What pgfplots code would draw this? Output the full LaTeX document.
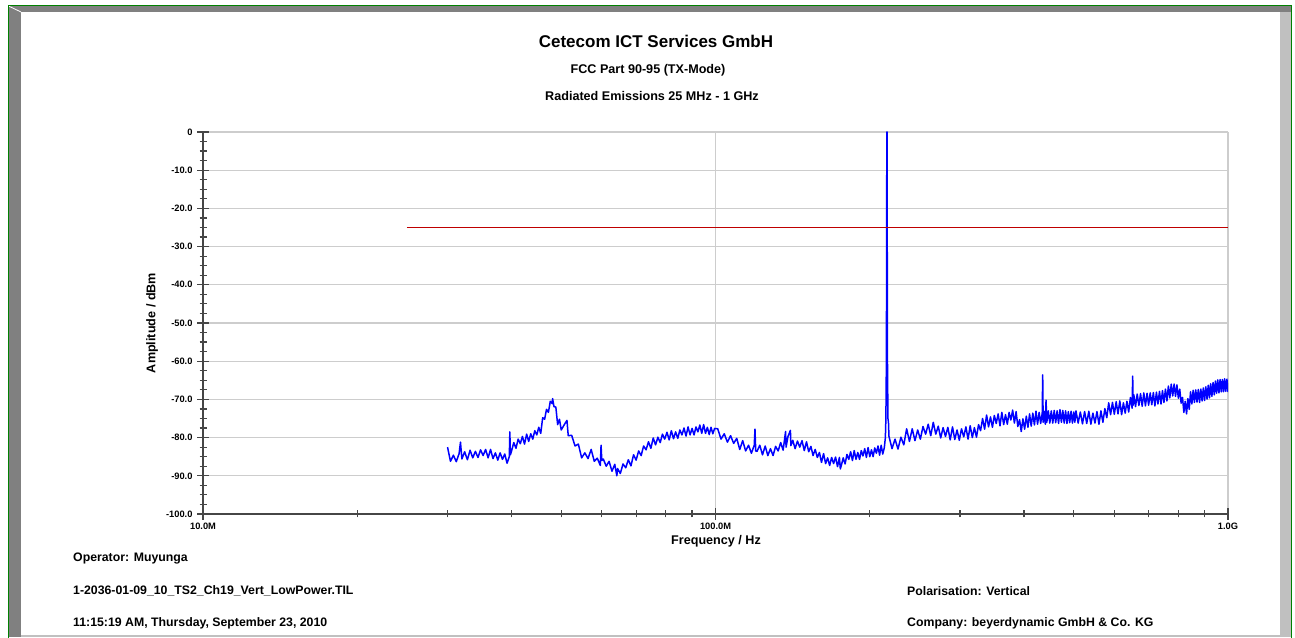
\documentclass[border=0pt]{standalone}
\usepackage{pgfplots}
\pgfplotsset{compat=1.18}
\usepackage{fontspec}
\setmainfont{Liberation Sans}
\definecolor{tracebl}{RGB}{0,0,255}
\definecolor{gridg}{RGB}{205,205,205}
\definecolor{axg}{RGB}{70,70,70}
\definecolor{frg}{RGB}{128,128,128}
\definecolor{frl}{RGB}{192,192,192}
\definecolor{frgreen}{RGB}{0,128,0}
\begin{document}
\begin{tikzpicture}[x=1pt,y=1pt]
\useasboundingbox (0,0) rectangle (1295,637);
\fill[white] (0,0) rectangle (1295,637);
% window frame
\fill[frg] (8,0) rectangle (21,631);
\fill[frg] (8,625) rectangle (1291,631);
\fill[frl] (1280,0) rectangle (1291,625);
\fill[frl] (21,0) rectangle (1280,2);
\draw[white, line width=0.8] (8.5,631) -- (21,625);
\draw[frgreen, line width=1.2] (8.6,-2) -- (8.6,631.4) -- (1291.4,631.4) -- (1291.4,-2);
% titles
\node[font=\bfseries\fontsize{17}{20}\selectfont] at (656,596) {Cetecom ICT Services GmbH};
\node[font=\bfseries\fontsize{12.6}{15}\selectfont] at (648,567) {FCC Part 90-95 (TX-Mode)};
\node[font=\bfseries\fontsize{12.6}{15}\selectfont] at (652,541) {Radiated Emissions 25 MHz - 1 GHz};
% footer
\node[font=\bfseries\fontsize{12.3}{15}\selectfont, anchor=west, inner sep=0pt] at (73,78) {Operator: Muyunga};
\node[font=\bfseries\fontsize{12.3}{15}\selectfont, anchor=west, inner sep=0pt] at (73,46) {1-2036-01-09\_10\_TS2\_Ch19\_Vert\_LowPower.TIL};
\node[font=\bfseries\fontsize{12.3}{15}\selectfont, anchor=west, inner sep=0pt] at (73,14) {11:15:19 AM, Thursday, September 23, 2010};
\node[font=\bfseries\fontsize{12.3}{15}\selectfont, anchor=west, inner sep=0pt] at (907,46) {Polarisation: Vertical};
\node[font=\bfseries\fontsize{12.3}{15}\selectfont, anchor=west, inner sep=0pt] at (907,14) {Company: beyerdynamic GmbH \& Co. KG};
% axis labels
\node[font=\bfseries\fontsize{12.6}{15}\selectfont] at (716,96) {Frequency / Hz};
\node[font=\bfseries\fontsize{12.6}{15}\selectfont, rotate=90] at (152,314) {Amplitude / dBm};
\begin{axis}[
  at={(203pt,123pt)}, anchor=south west,
  scale only axis, width=1025pt, height=382pt,
  xmode=log, xmin=10, xmax=1000, ymin=-100, ymax=0,
  axis x line=bottom, axis y line=left,
  axis line style={-, line width=1.8pt, color=axg},
  xtick={10,100,1000}, xticklabels={10.0M,100.0M,1.0G},
  minor xtick={20,30,40,50,60,70,80,90,200,300,400,500,600,700,800,900},
  ytick={0,-10,-20,-30,-40,-50,-60,-70,-80,-90,-100},
  yticklabels={0,-10.0,-20.0,-30.0,-40.0,-50.0,-60.0,-70.0,-80.0,-90.0,-100.0},
  minor y tick num=3,
  tick align=center,
  major tick length=12pt, minor tick length=7pt,
  every tick/.style={line width=1.2pt, color=axg},
  ticklabel style={font=\bfseries\fontsize{9.3}{11}\selectfont},
  yticklabel style={xshift=-1pt},
  xticklabel style={yshift=1pt},
  xmajorgrids, ymajorgrids,
  major grid style={line width=1.2pt, color=gridg},
  clip=true,
]
\addplot[tracebl, line width=1.5pt, solid, line join=round] coordinates {
(30.0,-82.5) (30.4,-86.2) (30.8,-84.6) (31.2,-86.3) (31.6,-84.2) (31.8,-81.2) (32.0,-85.6) (32.4,-83.7) (32.8,-85.8) (33.2,-83.3) (33.6,-85.3) (34.0,-83.6) (34.4,-85.2) (34.8,-83.2) (35.2,-84.7) (35.6,-83.1) (36.0,-85.3) (36.4,-83.1) (36.8,-85.5) (37.2,-84.0) (37.6,-85.9) (38.0,-84.0) (38.4,-85.7) (38.8,-84.3) (39.2,-86.7) (39.6,-85.0) (39.7,-78.5) (39.8,-84.5) (40.0,-83.5) (40.4,-81.3) (40.8,-82.8) (41.2,-80.4) (41.6,-81.6) (42.0,-79.7) (42.4,-81.7) (42.8,-79.1) (43.2,-81.0) (43.6,-79.0) (44.0,-80.4) (44.4,-78.2) (44.8,-79.3) (45.2,-77.3) (45.6,-78.9) (46.0,-74.8) (46.4,-75.2) (46.8,-72.6) (47.2,-73.4) (47.6,-70.5) (48.0,-71.1) (48.1,-69.8) (48.4,-71.9) (48.8,-72.0) (49.2,-76.6) (49.6,-75.2) (50.0,-78.0)
(50.8,-76.4) (51.3,-75.5) (51.6,-79.5) (52.4,-79.4) (53.2,-82.2) (54.0,-81.7) (54.8,-85.3) (55.6,-84.0) (56.4,-85.5) (57.2,-83.1) (58.0,-86.2) (58.8,-85.4) (59.6,-87.3) (59.8,-82.0) (60.0,-86.0) (60.4,-85.6) (61.2,-87.5) (62.0,-86.2) (62.8,-88.8) (63.6,-87.0) (64.2,-90.0) (64.4,-88.1) (65.2,-89.4) (66.0,-86.9) (66.8,-87.9) (67.6,-85.8) (68.4,-87.4) (69.2,-84.5) (70.0,-85.9) (70.8,-83.5) (71.6,-84.7) (72.4,-82.2) (73.2,-83.2) (74.0,-81.1) (74.8,-82.8) (75.6,-80.1) (76.4,-81.9) (77.2,-79.9) (78.0,-81.3) (78.8,-79.1) (79.6,-80.4) (80.4,-78.6) (81.2,-80.6) (82.0,-78.2) (82.8,-80.3) (83.6,-78.5) (84.4,-80.2) (85.2,-78.0) (86.0,-79.3) (86.8,-77.5) (87.6,-79.6) (88.4,-77.2) (89.2,-79.3) (90.0,-77.6) (90.8,-79.3) (91.6,-77.2) (92.4,-78.5) (93.2,-76.7) (94.0,-78.9) (94.8,-76.6) (95.6,-78.9) (96.4,-77.3) (97.2,-79.2) (98.0,-77.3) (98.8,-79.0) (99.6,-77.6)
(101.0,-77.7) (102.5,-80.4) (104.0,-79.0) (105.5,-81.2) (107.0,-79.5) (108.5,-81.5) (110.0,-80.2) (111.5,-83.1) (113.0,-80.8) (114.5,-83.5) (116.0,-82.0) (117.5,-84.1) (119.0,-82.0) (119.4,-77.8) (119.8,-83.5) (120.5,-83.6) (122.0,-82.0) (123.5,-84.5) (125.0,-82.2) (126.5,-84.7) (128.0,-82.9) (129.5,-84.7) (131.0,-82.3) (132.5,-83.5) (134.0,-81.3) (135.5,-83.3) (137.0,-78.4) (137.3,-82.5) (138.5,-79.7) (140.0,-78.1) (140.3,-82.1) (141.5,-80.7) (143.0,-82.9) (144.5,-80.9) (146.0,-82.5) (147.5,-80.8) (149.0,-83.4) (150.5,-81.1) (152.0,-83.7) (153.5,-82.3) (155.0,-84.7) (156.5,-83.1) (158.0,-85.2) (159.5,-83.9) (161.0,-86.5) (162.5,-84.2) (164.0,-86.8) (165.5,-85.3) (167.0,-87.3) (168.5,-85.2) (170.0,-86.8) (171.5,-85.1) (173.0,-87.6) (174.5,-85.2) (175.2,-88.2) (176.0,-87.3) (177.5,-85.3) (179.0,-86.9) (180.5,-84.4) (182.0,-85.7) (183.5,-83.7) (185.0,-86.0) (186.5,-83.4) (188.0,-85.7) (189.5,-83.9) (191.0,-85.7) (192.5,-83.4) (194.0,-84.8) (195.5,-82.9) (197.0,-85.2) (198.5,-82.6) (200.0,-85.0) (201.5,-83.2) (203.0,-85.0) (204.5,-82.7) (206.0,-84.1) (207.5,-82.2) (209.0,-84.6) (210.5,-82.0) (212.0,-84.3) (213.5,-82.6)
(214.5,-80.0) (215.0,-75.0) (215.5,-59.0) (215.9,0.0) (216.1,0.0) (216.5,-59.0) (217.0,-75.0) (217.5,-76.0) (218.0,-79.7)
(221,-82.9) (224,-80.4) (227,-83.0) (230,-79.9) (233,-81.9) (236,-77.7) (239,-81.0) (242,-77.7) (245,-80.8) (248,-78.0) (251,-80.4) (254,-77.1) (257,-79.1) (260,-76.5) (263,-79.5) (266,-76.0) (269,-79.1) (272,-77.0) (275,-80.1) (278,-77.4) (281,-79.7) (284,-77.3) (287,-80.6) (290,-77.2) (293,-80.5) (296,-78.0) (299,-80.7) (302,-77.7) (305,-79.8) (308,-77.2) (311,-80.4) (314,-76.9) (317,-80.0) (320,-77.4) (323,-79.9) (326,-76.6) (329,-78.2) (332,-75.0) (335,-77.8) (338,-74.1) (341,-77.2) (344,-74.6) (347,-77.3) (350,-74.2) (353,-76.3) (356,-73.8) (359,-76.9) (362,-73.4) (365,-76.6) (368,-74.0) (371,-76.5) (374,-73.4) (377,-75.4) (380,-72.8) (383,-76.2) (386,-73.2) (389,-77.1) (392,-75.3) (395,-78.4) (398,-75.1)
(401,-77.8) (404,-74.4) (407,-77.3) (410,-73.8) (413,-77.0) (416,-73.6) (419,-76.7) (422,-73.1) (425,-76.5) (428,-73.4) (431,-76.3) (434,-73.6) (434.9,-63.6) (435.8,-76.0) (438,-73.2) (440,-76.5) (441.5,-70.2) (443,-76.0) (446,-73.0) (449,-76.2) (452,-73.0) (455,-76.2) (458,-72.9) (461,-76.1) (464,-73.0) (467,-76.3) (470,-72.7) (473,-76.0) (476,-72.9) (479,-76.2) (482,-73.0) (485,-76.3) (488,-73.2) (491,-76.1) (494,-73.1) (497,-76.2) (500,-73.3) (502.5,-76.0)
(505,-73.0) (510,-76.2) (515,-73.3) (520,-76.4) (525,-73.2) (530,-76.3) (535,-73.1) (540,-76.5) (545,-73.6) (550,-76.2) (555,-73.2) (560,-76.5) (565,-73.0) (570,-76.0) (575,-72.4) (580,-74.8) (585,-70.9) (590,-74.0) (595,-70.8) (600,-73.9) (605,-70.6) (610,-73.8) (615,-70.4) (620,-74.0) (625,-70.9) (630,-73.6) (635,-70.5) (640,-73.3) (645,-69.5) (650,-72.3) (651.6,-63.9) (653,-71.5) (655,-68.8) (660,-71.9) (665,-68.6) (670,-71.6) (675,-68.5) (680,-71.8) (685,-68.3) (690,-71.7) (695,-68.4) (700,-71.5) (705,-68.3) (710,-71.4) (715,-68.2) (720,-71.7) (725,-68.1) (730,-71.2) (735,-67.9) (740,-71.2) (745,-67.7) (750,-70.8) (755,-67.3) (760,-70.4) (765,-66.5) (770,-69.6) (775,-66.0) (780,-69.1) (785,-66.0) (790,-69.2) (795,-66.2) (800,-69.7) (805,-67.3) (810,-71.0) (815,-69.5) (820,-73.4) (825,-70.5) (830,-73.8) (835,-69.8) (840,-72.6) (845,-68.0) (850,-71.2) (855,-67.6) (860,-70.8) (865,-67.5) (870,-70.7) (875,-67.4) (880,-70.8) (885,-67.3) (890,-70.4) (895,-67.0) (900,-70.3) (905,-66.7) (910,-69.9) (915,-66.3) (920,-69.6) (925,-65.9) (930,-69.2) (935,-65.6) (940,-68.8) (945,-65.2) (950,-68.4) (955,-64.9) (960,-68.3) (965,-64.8) (970,-68.0) (975,-64.8) (980,-68.0) (985,-64.6) (990,-67.9) (995,-64.7) (1000,-68.1)
};
\addplot[red!75!black, line width=1.4pt, solid] table {
x y
25 -25
1000 -25
};
\end{axis}
\end{tikzpicture}
\end{document}
